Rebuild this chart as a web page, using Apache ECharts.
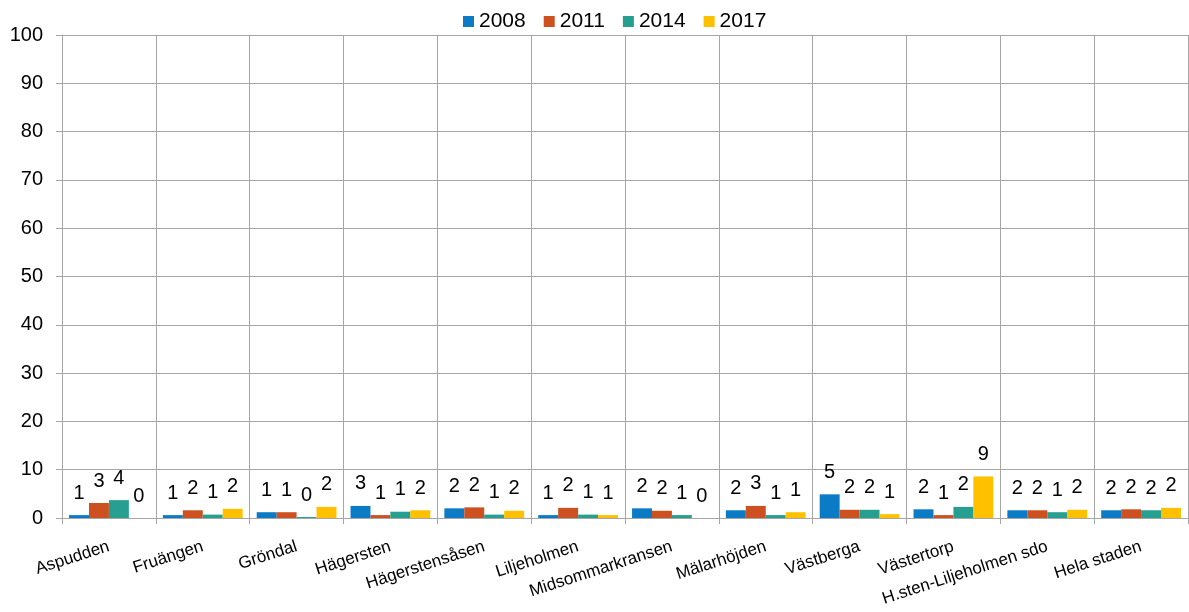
<!DOCTYPE html>
<html>
<head>
<meta charset="utf-8">
<script src="https://cdn.jsdelivr.net/npm/echarts@6/dist/echarts.min.js"></script>
<style>
  html, body { margin: 0; padding: 0; background: #fff; }
  #chart { width: 1189px; height: 612px; }
</style>
</head>
<body>
<div id="chart"></div>
<script>
//--------------------- Data ---------------------------//
const categories = ['Aspudden', 'Fruängen', 'Gröndal', 'Hägersten', 'Hägerstensåsen', 'Liljeholmen',
  'Midsommarkransen', 'Mälarhöjden', 'Västberga', 'Västertorp', 'H.sten-Liljeholmen sdo', 'Hela staden'];
const years = ['2008', '2011', '2014', '2017'];
const values2008 = [0.6, 0.6, 1.2, 2.5, 2.0, 0.6, 2.0, 1.6, 4.9, 1.8, 1.6, 1.6];
const values2011 = [3.1, 1.6, 1.2, 0.6, 2.2, 2.1, 1.5, 2.5, 1.7, 0.6, 1.6, 1.8];
const values2014 = [3.7, 0.7, 0.2, 1.3, 0.7, 0.7, 0.6, 0.6, 1.7, 2.3, 1.2, 1.6];
const values2017 = [0.0, 1.9, 2.3, 1.6, 1.5, 0.6, 0.0, 1.2, 0.8, 8.6, 1.7, 2.1];
const colors = ['#0a7bc4', '#cc5020', '#269e90', '#ffc000'];

//--------------------- Chart ---------------------------//
const font = 'Liberation Sans, Arial, sans-serif';
const chart = echarts.init(document.getElementById('chart'));

const seriesValues = [values2008, values2011, values2014, values2017];
const series = years.map((year, i) => ({
  name: year,
  type: 'bar',
  data: seriesValues[i],
  barGap: '0%',
  barCategoryGap: '15%',
  itemStyle: { color: colors[i] },
  label: {
    show: true,
    position: 'top',
    distance: 12,
    color: '#000',
    fontFamily: font,
    fontSize: 20,
    formatter: p => Math.round(p.value)
  }
}));

const option = {
  animation: false,
  color: colors,
  legend: {
    top: 6,
    left: 458,
    itemWidth: 11,
    itemHeight: 11,
    itemGap: 18,
    icon: 'rect',
    textStyle: { fontFamily: font, fontSize: 21, color: '#000' },
    data: years
  },
  grid: { left: 62, right: 1, top: 35, bottom: 94 },
  xAxis: {
    type: 'category',
    data: categories,
    axisLine: { lineStyle: { color: '#a6a6a6' } },
    axisTick: { show: true, length: 6, lineStyle: { color: '#a6a6a6' } },
    splitLine: { show: true, lineStyle: { color: '#a6a6a6' } },
    axisLabel: {
      rotate: 18,
      interval: 0,
      margin: 28,
      color: '#000',
      fontFamily: font,
      fontSize: 17
    }
  },
  yAxis: {
    type: 'value',
    min: 0,
    max: 100,
    interval: 10,
    axisLine: { show: true, lineStyle: { color: '#a6a6a6' } },
    axisTick: { show: true, length: 6, lineStyle: { color: '#a6a6a6' } },
    splitLine: { lineStyle: { color: '#a6a6a6' } },
    axisLabel: { color: '#000', fontFamily: font, fontSize: 20, margin: 19 }
  },
  series: series
};

chart.setOption(option);
</script>
</body>
</html>
